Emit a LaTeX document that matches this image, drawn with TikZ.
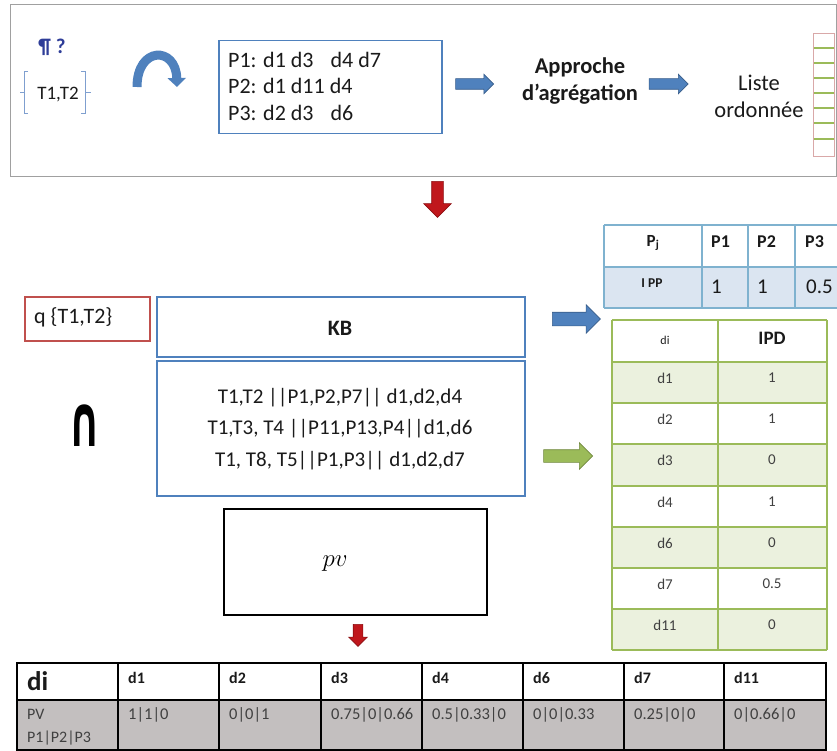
\documentclass[tikz,border=0pt]{standalone}
\usepackage{fontspec}
\usepackage{graphicx}
\setmainfont{Carlito}
\newfontfamily\djv{DejaVu Sans}
\usetikzlibrary{shapes.arrows,arrows.meta}
\definecolor{bluebox}{HTML}{4F81BD}
\definecolor{bluedark}{HTML}{385D8A}
\definecolor{redbox}{HTML}{C0504D}
\definecolor{arrred}{HTML}{C0171C}
\definecolor{arrreddark}{HTML}{8C0F12}
\definecolor{greenl}{HTML}{9BBB59}
\definecolor{greendark}{HTML}{71893F}
\definecolor{greenfill}{HTML}{EBF1DE}
\definecolor{tealb}{HTML}{7FB2CF}
\definecolor{lightblue}{HTML}{DBE5F1}
\definecolor{grayfill}{HTML}{C3BFBF}
\definecolor{navy}{HTML}{2E3D98}
\definecolor{framegray}{HTML}{A0A0A0}
\definecolor{bracecol}{HTML}{7F9FCF}
\definecolor{pinkb}{HTML}{D9A8A8}
\definecolor{txt}{HTML}{1A1A1A}
\definecolor{txtgray}{HTML}{404040}
\newcommand\fsz[2]{\fontsize{#1}{#2}\selectfont}
\tikzset{
  blockarrow/.style={single arrow, text height=0pt, text depth=0pt, text width=0pt, inner xsep=0pt, line width=0.6pt},
  bluearrow/.style={blockarrow, fill=bluebox, draw=bluedark},
  greenarrow/.style={blockarrow, fill=greenl, draw=greendark},
  redarrow/.style={blockarrow, fill=arrred, draw=arrreddark, rotate=-90},
  plain/.style={inner sep=0pt, text=txt},
  cell/.style={inner sep=0pt, text=txtgray, font=\fsz{15}{18}},
}
\begin{document}
\begin{tikzpicture}[x=1pt,y=-1pt]
\useasboundingbox (0,0) rectangle (837,751);

% ---------- top frame ----------
\draw[framegray, line width=1pt] (10,5) rectangle (836,177);
\node[plain, text=navy, font=\bfseries\fsz{21}{24}] (para) at (52,47) {¶ ?};
\draw[bracecol, line width=0.8pt] (28,71) -- (24,71) -- (24,113) -- (28,113) (24,92) -- (20,92);
\draw[bracecol, line width=0.8pt] (81,71) -- (85,71) -- (85,113) -- (81,113) (85,92) -- (91,92);
\node[plain, font=\fsz{19}{22}] (terms) at (58,95) {T1,T2};
\coordinate (cs) at (137,87);
\coordinate (ce) at (177,87);
\draw[bluebox, line width=9pt, -{Triangle[width=18pt,length=9pt]}] (cs) .. controls (137,46) and (176,46) .. (ce);

\node[draw=bluebox, line width=1.5pt, minimum width=223pt, minimum height=93pt, anchor=north west] (pbox) at (218,40) {};
\node[plain, anchor=west, align=left, font=\fsz{22}{26.5}] (ptext) at (228,86)
  {P1: d1 d3\hspace{17pt}d4 d7\\P2: d1 d11 d4\\P3: d2 d3\hspace{17pt}d6};
\node[bluearrow, minimum height=38pt, minimum width=19pt, inner ysep=5pt, single arrow head extend=4.5pt] (a1) at (472,84) {};
\node[plain, align=center, font=\bfseries\fsz{22.5}{27}] (appr) at (580,81) {Approche\\d’agrégation};
\node[bluearrow, minimum height=39pt, minimum width=19pt, inner ysep=5pt, single arrow head extend=4.5pt] (a2) at (666,84) {};
\node[plain, align=center, font=\fsz{22.5}{27}] (liste) at (759,96) {Liste\\ordonnée};
\node[draw=pinkb, line width=0.8pt, minimum width=21pt, minimum height=123pt, anchor=north west, inner sep=0pt] (strip) at (813,33) {};
\foreach \yy in {48,63,78,93,108,123,139}
  \draw[greenl, line width=1.2pt] (813.5,\yy) -- (833.5,\yy);

% ---------- red arrow down ----------
\node[redarrow, minimum height=36pt, minimum width=27pt, inner ysep=5.5pt, single arrow head extend=8pt] (rdown) at (437.5,196.5) {};

% ---------- middle ----------
\node[draw=redbox, line width=1.5pt, minimum width=125pt, minimum height=44pt, anchor=north west, inner sep=0pt] (qbox) at (24,296) {};
\node[plain, anchor=west, font=\fsz{22}{24}] (qtext) at (34,317) {q \{T1,T2\}};
\node[draw=bluebox, line width=1.5pt, minimum width=368pt, minimum height=60pt, anchor=north west, inner sep=0pt] (kb) at (156,296) {};
\node[plain, font=\bfseries\fsz{22}{24}] (kbt) at (340,328) {KB};
\node[draw=bluebox, line width=1.5pt, minimum width=368pt, minimum height=135pt, anchor=north west, inner sep=0pt] (kbc) at (156,360) {};
\node[plain, align=center, font=\fsz{21}{31.5}] (kbtext) at (340,429)
  {T1,T2 ||P1,P2,P7|| d1,d2,d4\\T1,T3, T4 ||P11,P13,P4||d1,d6\\T1, T8, T5||P1,P3|| d1,d2,d7};
\node[plain, text=black, font=\djv\bfseries\fsz{40}{40}] (inter) at (85,426) {\scalebox{1}[1.8]{∩}};
\node[bluearrow, minimum height=48pt, minimum width=28pt, inner ysep=6.5pt, single arrow head extend=7.5pt] (a3) at (573,319) {};
\node[greenarrow, minimum height=49pt, minimum width=26pt, inner ysep=6pt, single arrow head extend=7pt] (a4) at (565,456) {};

% ---------- Pj table ----------
\fill[lightblue] (604,267) rectangle (837,308);
\draw[tealb, line width=1.2pt] (604,225) -- (837,225) (604,267) -- (837,267) (604,308) -- (837,308);
\foreach \xx in {604,702,748,795}
  \draw[tealb, line width=1.2pt] (\xx,225) -- (\xx,308);
\node[plain, font=\bfseries\fsz{17}{18}] (pj) at (653,243) {P\textsubscript{j}};
\node[plain, anchor=west, font=\bfseries\fsz{18}{20}] (hp1) at (711,242) {P1};
\node[plain, anchor=west, font=\bfseries\fsz{18}{20}] (hp2) at (757,242) {P2};
\node[plain, anchor=west, font=\bfseries\fsz{18}{20}] (hp3) at (805,242) {P3};
\node[plain, font=\bfseries\fsz{13.5}{15}] (ipp) at (652,283) {I PP};
\node[plain, anchor=west, font=\fsz{21}{22}] (v1) at (711,287) {1};
\node[plain, anchor=west, font=\fsz{21}{22}] (v2) at (757,287) {1};
\node[plain, anchor=west, font=\fsz{21}{22}] (v3) at (806,287) {0.5};

% ---------- IPD table ----------
\foreach \ya/\yb in {362/403,444/486,527/568,609/650}
  \fill[greenfill] (612,\ya) rectangle (827,\yb);
\foreach \yy in {320,362,403,444,486,527,568,609,650}
  \draw[greenl, line width=1.5pt] (612,\yy) -- (827,\yy);
\foreach \xx in {612,718,827}
  \draw[greenl, line width=1.5pt] (\xx,320) -- (\xx,650);
\node[plain, font=\fsz{12}{14}] (dih) at (665,340) {di};
\node[plain, font=\bfseries\fsz{19}{22}] (ipd) at (772,338) {IPD};
\foreach \nm/\val/\yy in {d1/1/378,d2/1/419,d3/0/460,d4/1/502,d6/0/543,d7/0.5/584,d11/0/625}{
  \node[cell] (l\nm) at (665,\yy) {\nm};
  \node[cell] (r\nm) at (772,\yy) {\val};
}

% ---------- pv box ----------
\node[draw=black, line width=2pt, minimum width=263pt, minimum height=106pt, anchor=north west, inner sep=0pt] (pvbox) at (223,508) {};
\node[plain, text=black, font=\fsz{26}{28}] (pvt) at (335,564) {$pv$};
\node[redarrow, minimum height=22pt, minimum width=18pt, inner ysep=4.5pt, single arrow head extend=4.5pt] (rsmall) at (358,633) {};

% ---------- bottom table ----------
\fill[grayfill] (17,700) rectangle (826,750);
\draw[black, line width=1.5pt] (17,663) rectangle (826,750) (17,700) -- (826,700);
\foreach \xx in {118,219,321,422,523,624,724}
  \draw[black, line width=1.5pt] (\xx,663) -- (\xx,750);
\node[plain, anchor=base west, font=\bfseries\fsz{27}{28}] (bdi) at (27,690) {di};
\foreach \nm/\xx/\val in {d1/118/1|1|0, d2/219/0|0|1, d3/321/0.75|0|0.66, d4/422/0.5|0.33|0, d6/523/0|0|0.33, d7/624/0.25|0|0, d11/724/0|0.66|0}{
  \node[plain, anchor=base west, font=\bfseries\fsz{16}{18}] (b\nm) at (\xx+10,683) {\nm};
  \node[plain, text=txtgray, anchor=base west, font=\fsz{16.5}{18}] (bv\nm) at (\xx+10,719) {\val};
}
\node[plain, text=txtgray, anchor=base west, font=\fsz{16}{18}] (pv1) at (27,719) {PV};
\node[plain, text=txtgray, anchor=base west, font=\fsz{16}{18}] (pv2) at (27,742) {P1|P2|P3};
\end{tikzpicture}
\end{document}
